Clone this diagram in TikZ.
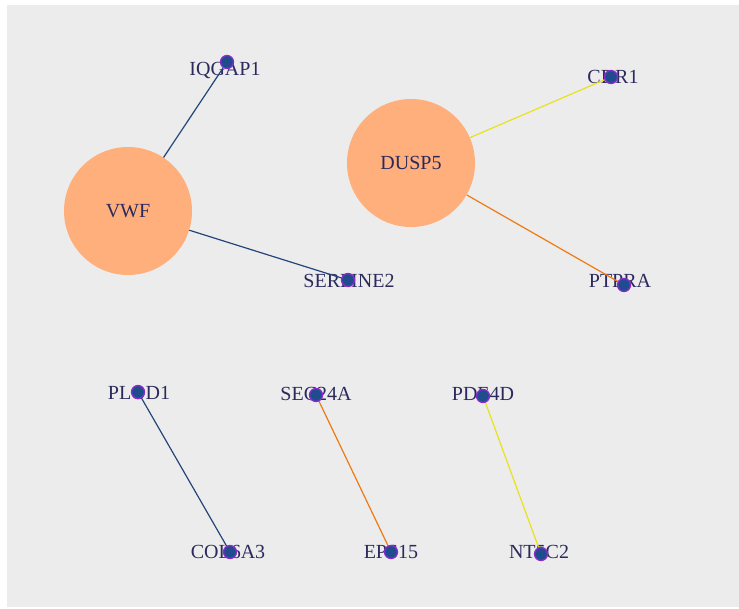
\documentclass[tikz,border=0pt]{standalone}
\usepackage{fontspec}
\setmainfont{Liberation Serif}
\usepackage{tikz}
\usetikzlibrary{backgrounds}
\definecolor{bggray}{HTML}{ECECEC}
\definecolor{peach}{HTML}{FFAF7B}
\definecolor{inkblue}{HTML}{2C2A5C}
\definecolor{dotblue}{HTML}{1F4C8C}
\definecolor{dotrim}{HTML}{8A2BD0}
\definecolor{linkblue}{HTML}{24457A}
\definecolor{linkorange}{HTML}{EE7A12}
\definecolor{linkyellow}{HTML}{E8E21E}
\tikzstyle{hub} = [circle, fill=peach, minimum size=128pt, inner sep=0pt,
    text=inkblue, font=\fontsize{20}{24}\selectfont]
\tikzstyle{gene} = [circle, fill=dotblue, draw=dotrim, line width=1.3pt,
    minimum size=13pt, inner sep=0pt]
\tikzstyle{tag} = [text=inkblue, font=\fontsize{20}{24}\selectfont, inner sep=0pt]
\tikzstyle{link} = [line width=1.2pt]

\begin{document}
\begin{tikzpicture}[x=1pt, y=-1pt]
    \useasboundingbox (0,0) rectangle (739,608);

    \node [hub] (vwf) at (128,211) {VWF};
    \node [hub] (dusp5) at (411,163) {DUSP5};

    \node [gene] (iqgap1) at (227,62) {};
    \node [gene] (serpine2) at (348,280) {};
    \node [gene] (cdr1) at (611,77) {};
    \node [gene] (ptpra) at (624,285) {};
    \node [gene] (plod1) at (138,392) {};
    \node [gene] (sec24a) at (316,395) {};
    \node [gene] (pde4d) at (483,396) {};
    \node [gene] (col6a3) at (230,552) {};
    \node [gene] (eps15) at (391,552) {};
    \node [gene] (nt5c2) at (541,554) {};

    \begin{pgfonlayer}{background}
    \fill [bggray] (7,5) rectangle (739,607);

    \node [tag] at (225,70) {IQGAP1};
    \node [tag] at (349,281) {SERPINE2};
    \node [tag] at (613,77) {CDR1};
    \node [tag] at (620,281) {PTPRA};
    \node [tag] at (139,393) {PLOD1};
    \node [tag] at (316,394) {SEC24A};
    \node [tag] at (483,394) {PDE4D};
    \node [tag] at (228,552) {COL6A3};
    \node [tag] at (391,552) {EPS15};
    \node [tag] at (539,552) {NT5C2};

    \draw [link, linkblue] (vwf) -- (iqgap1.center);
    \draw [link, linkblue] (vwf) -- (serpine2.center);
    \draw [link, linkyellow] (dusp5) -- (cdr1.center);
    \draw [link, linkorange] (dusp5) -- (ptpra.center);
    \draw [link, linkblue] (plod1.center) -- (col6a3.center);
    \draw [link, linkorange] (sec24a.center) -- (eps15.center);
    \draw [link, linkyellow] (pde4d.center) -- (nt5c2.center);
    \end{pgfonlayer}
\end{tikzpicture}
\end{document}
